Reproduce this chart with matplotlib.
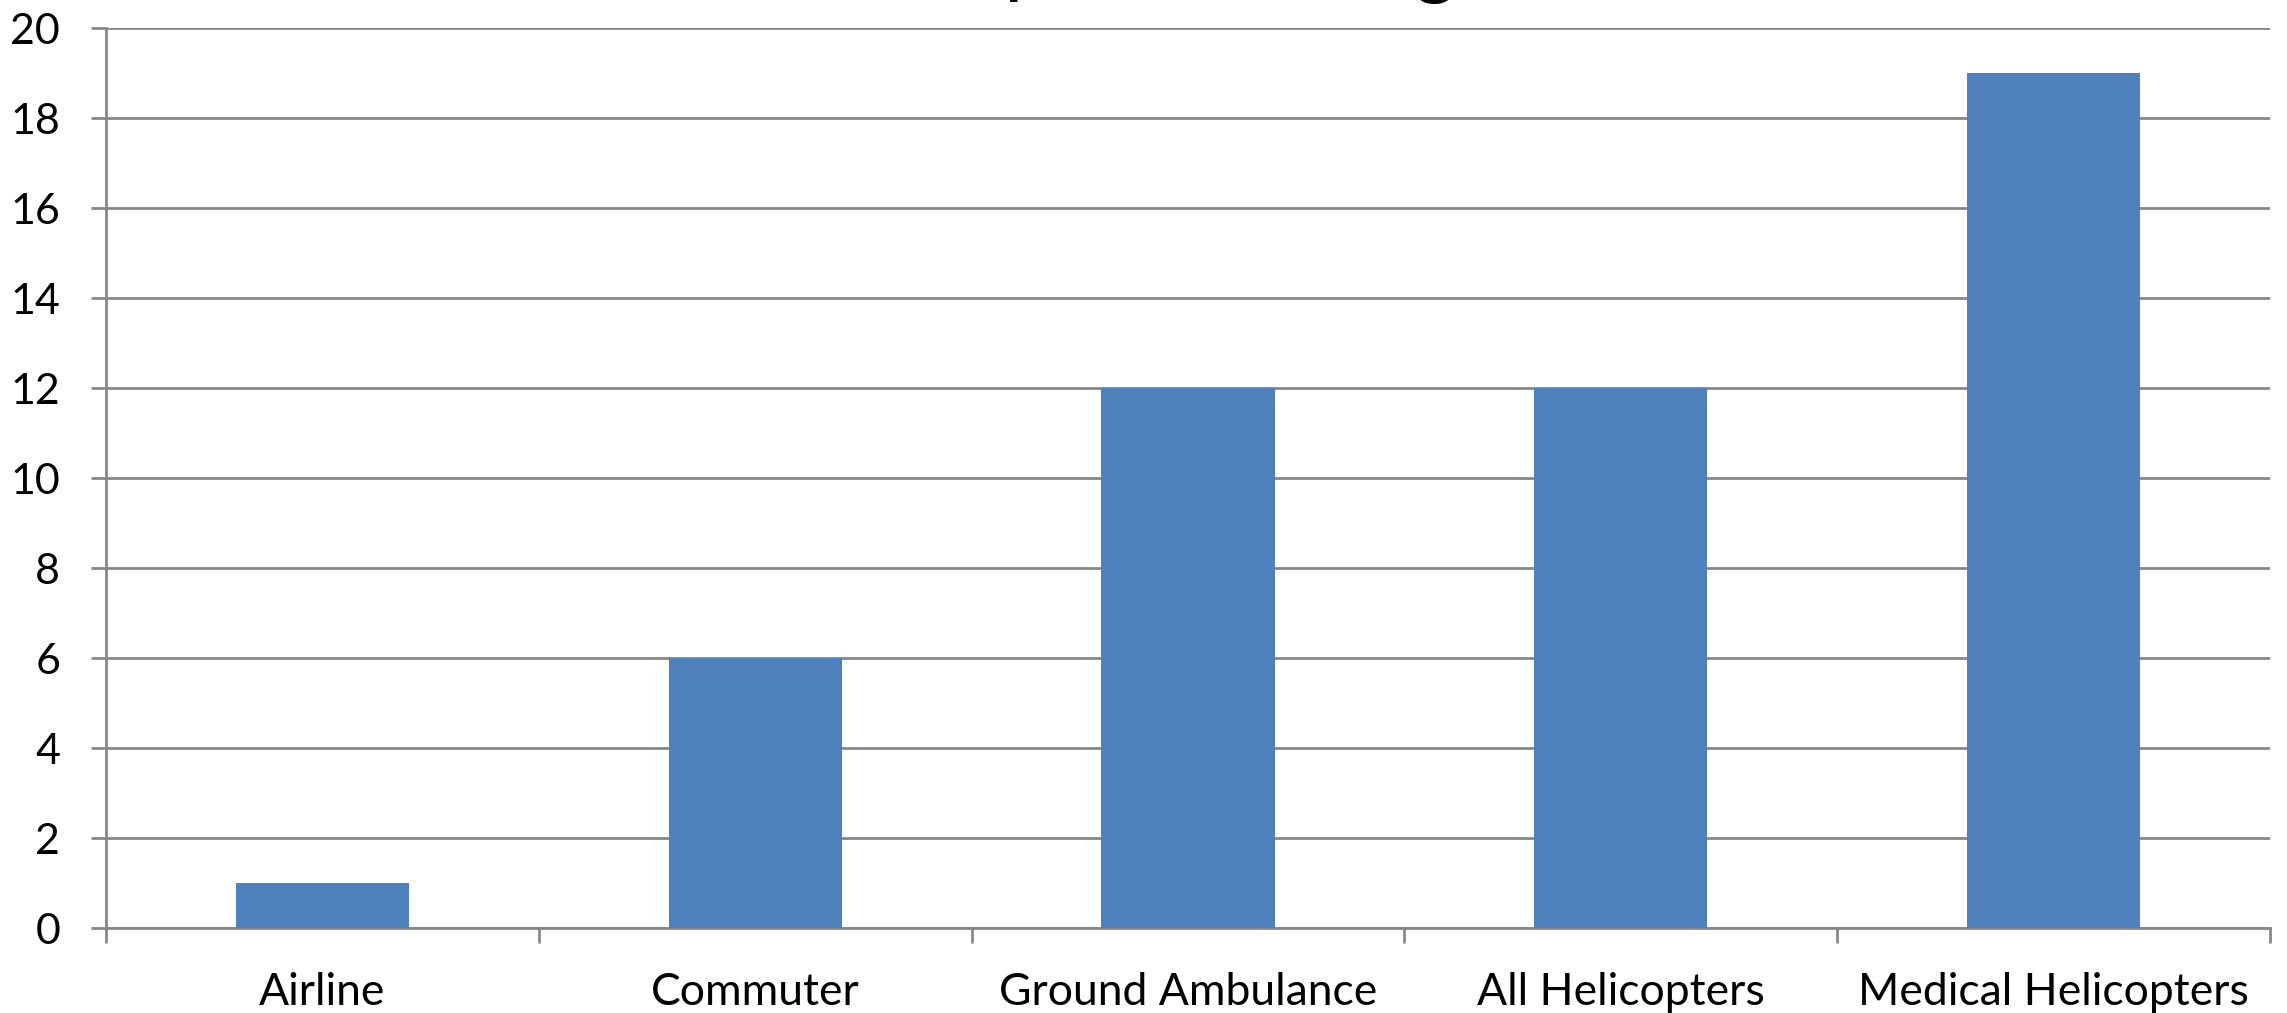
import matplotlib
matplotlib.use("Agg")
import matplotlib.pyplot as plt
import numpy as np

categories = ["Airline", "Commuter", "Ground Ambulance", "All Helicopters", "Medical Helicopters"]
values = [1, 6, 12, 12, 19]
yticks = [0, 2, 4, 6, 8, 10, 12, 14, 16, 18, 20]
title = "Transport Rankings"

plt.rcParams['font.family'] = ['Lato', 'DejaVu Sans']

W, H = 2287, 1013
fig = plt.figure(figsize=(W / 100, H / 100), dpi=100)
left, right, top, bottom = 106 / W, 2270 / W, 28 / H, 928 / H
ax = fig.add_axes([left, 1 - bottom, right - left, bottom - top])

grid_col = "#878787"
bar_col = "#4F81BD"

x = np.arange(len(categories))
ax.bar(x, values, width=0.4, color=bar_col, zorder=3)

ax.set_xlim(-0.5, len(categories) - 0.5)
ax.set_ylim(0, 20)
ax.set_yticks(yticks)
ax.set_yticklabels([str(v) for v in yticks])
ax.yaxis.grid(True, color=grid_col, linewidth=2.0, zorder=0)
ax.set_axisbelow(True)

for s in ["top", "right"]:
    ax.spines[s].set_visible(False)
for s in ["left", "bottom"]:
    ax.spines[s].set_color(grid_col)
    ax.spines[s].set_linewidth(2.0)

ax.set_xticks(x)
ax.set_xticklabels(categories)
ax.tick_params(axis="x", which="major", length=0, pad=32, labelsize=32)
ax.set_xticks(np.arange(-0.5, len(categories)), minor=True)
ax.tick_params(axis="x", which="minor", length=10.5, width=2.0, color=grid_col)
ax.tick_params(axis="y", length=11, width=2.0, color=grid_col, pad=22, labelsize=31)

fig.text(0.5025, 1 + 12.5 / H, title, ha="center", va="baseline", fontsize=58, color="black")

fig.savefig("out.png", dpi=100)
